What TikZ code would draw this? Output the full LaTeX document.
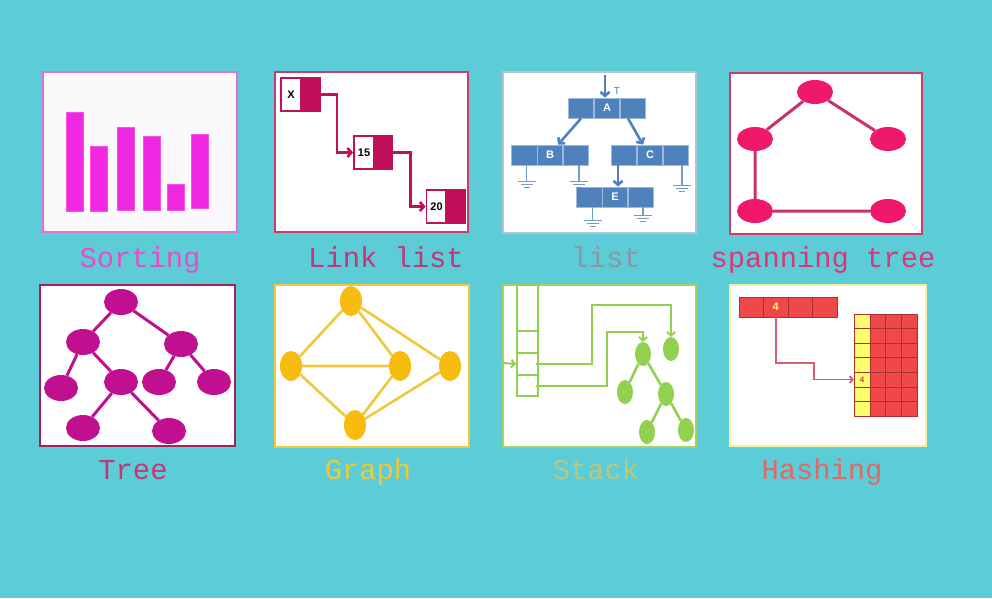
\documentclass[tikz,border=0pt]{standalone}
\usepackage{fontspec}
\setmainfont{Liberation Sans}
\newfontfamily\monof{Liberation Mono}
\usetikzlibrary{arrows.meta,shapes.geometric}
\definecolor{bg}{RGB}{92,205,215}
\definecolor{sortpink}{RGB}{240,40,225}
\definecolor{sortborder}{RGB}{230,110,210}
\definecolor{linkred}{RGB}{192,16,90}
\definecolor{linkborder}{RGB}{200,60,110}
\definecolor{listblue}{RGB}{79,129,189}
\definecolor{listborder}{RGB}{185,195,215}
\definecolor{hotpink}{RGB}{240,24,106}
\definecolor{stedge}{RGB}{200,50,110}
\definecolor{treepurple}{RGB}{192,16,143}
\definecolor{treeborder}{RGB}{160,32,96}
\definecolor{gold}{RGB}{248,188,16}
\definecolor{goldedge}{RGB}{240,200,60}
\definecolor{sgreen}{RGB}{146,208,80}
\definecolor{sgedge}{RGB}{160,210,100}
\definecolor{hashred}{RGB}{240,72,72}
\definecolor{hashyellow}{RGB}{255,255,110}
\definecolor{hasharrow}{RGB}{208,96,112}
\definecolor{hashborder}{RGB}{245,240,160}
\begin{document}
\begin{tikzpicture}[x=1pt,y=-1pt,
  panel/.style={draw, line width=1.8pt, fill=white, inner sep=0pt},
  bar/.style={fill=sortpink, draw=sortpink!80!white, line width=0.5pt, minimum width=17pt, inner sep=0pt, anchor=south west},
  lwhite/.style={draw=linkred, line width=1.8pt, fill=white, minimum width=20pt, minimum height=33pt, inner sep=0pt, font=\bfseries\fontsize{11}{11}\selectfont},
  ldark/.style={draw=linkred, line width=1.8pt, fill=linkred, minimum width=19pt, minimum height=33pt, inner sep=0pt},
  larrow/.style={draw=linkred, line width=2.6pt, -{Straight Barb[length=4pt,width=9pt]}},
  lcell/.style={draw=listblue!55!white, line width=0.8pt, fill=listblue, minimum width=25.7pt, minimum height=20pt, inner sep=0pt, text=white, font=\bfseries\fontsize{11}{11}\selectfont},
  barrow/.style={draw=listblue, line width=2.6pt, -{Straight Barb[length=4pt,width=9pt]}},
  gline/.style={draw=listblue!80!white, line width=1.4pt},
  gnd/.pic={\draw[listblue!80!white, line width=1.2pt] (-9,0)--(9,0) (-6,3)--(6,3) (-3,6)--(3,6);},
  stnode/.style={ellipse, fill=hotpink, minimum width=36pt, minimum height=24pt, inner sep=0pt},
  tnode/.style={ellipse, fill=treepurple, minimum width=34pt, minimum height=26pt, inner sep=0pt},
  gnode/.style={ellipse, fill=gold, minimum width=22pt, minimum height=30pt, inner sep=0pt},
  snode/.style={ellipse, fill=sgreen, minimum width=16pt, minimum height=24pt, inner sep=0pt},
  scell/.style={draw=sgreen, line width=2pt, minimum width=21pt, inner sep=0pt},
  sarrow/.style={draw=sgreen, line width=2pt, -{Straight Barb[length=3.5pt,width=8pt]}},
  hcell/.style={draw=hashred!70!black, line width=0.5pt, fill=hashred, minimum width=24.5pt, minimum height=20pt, inner sep=0pt},
  ycell/.style={draw=hashred!70!black, line width=0.5pt, fill=hashyellow, minimum width=16pt, minimum height=14.57pt, inner sep=0pt},
  rcell/.style={draw=hashred!70!black, line width=0.5pt, fill=hashred, minimum width=15.67pt, minimum height=14.57pt, inner sep=0pt},
  lab/.style={anchor=base, inner sep=0pt, font=\monof\fontsize{28.8}{28.8}\selectfont}
]
\fill[bg] (0,0) rectangle (992,598);
\useasboundingbox (0,0) rectangle (992,598);

% ---------- Panel 1: Sorting ----------
\node[panel, draw=sortborder, fill={rgb,255:red,252;green,249;blue,252}, minimum width=194pt, minimum height=160pt] (P1) at (140,152) {};
\node[bar, minimum height=99pt] (b1) at (66,211) {};
\node[bar, minimum height=65pt] (b2) at (90,211) {};
\node[bar, minimum height=83pt] (b3) at (117,210) {};
\node[bar, minimum height=74pt] (b4) at (143,210) {};
\node[bar, minimum height=26pt] (b5) at (167,210) {};
\node[bar, minimum height=74pt] (b6) at (191,208) {};
\node[lab, text={rgb,255:red,224;green,80;blue,200}] (L1) at (140,267) {Sorting};

% ---------- Panel 2: Link list ----------
\node[panel, draw=linkborder, minimum width=193pt, minimum height=160pt] (P2) at (371.5,152) {};
\node[lwhite] (Xa) at (291,94.5) {X};
\node[ldark] (Xb) at (310.5,94.5) {};
\node[lwhite] (Na) at (364,152.5) {15};
\node[ldark] (Nb) at (383,152.5) {};
\node[lwhite] (Ta) at (436.5,206.5) {20};
\node[ldark] (Tb) at (455.5,206.5) {};
\draw[larrow] (Xb.east) -- ++(16,0) |- (Na.west);
\draw[larrow] (Nb.east) -- ++(17,0) |- (Ta.west);
\node[lab, text={rgb,255:red,192;green,56;blue,120}] (L2) at (386,267) {Link list};

% ---------- Panel 3: list ----------
\node[panel, draw=listborder, minimum width=193pt, minimum height=161pt] (P3) at (599.5,152.5) {};
\node[lcell] (A1) at (581,108) {};
\node[lcell] (A2) at (607,108) {A};
\node[lcell] (A3) at (633,108) {};
\node[lcell] (B1) at (524.5,155) {};
\node[lcell] (B2) at (550,155) {B};
\node[lcell] (B3) at (576,155) {};
\node[lcell] (C1) at (624,155) {};
\node[lcell] (C2) at (650,155) {C};
\node[lcell] (C3) at (676,155) {};
\node[lcell] (E1) at (589.5,197) {};
\node[lcell] (E2) at (615,197) {E};
\node[lcell] (E3) at (641,197) {};
\coordinate (Tin) at (605,75);
\draw[barrow] (Tin) -- (Tin |- A2.north);
\node[text=listblue, font=\fontsize{10}{10}\selectfont, inner sep=0pt] (Tl) at (617,91) {T};
\draw[barrow] (A1.south) -- ([xshift=8pt]B2.north);
\draw[barrow] ([xshift=-5pt]A3.south) -- ([xshift=-7pt]C2.north);
\draw[barrow] ([xshift=-6pt]C1.south) -- ([xshift=-6pt]C1.south |- E2.north);
\draw[gline] ([xshift=2pt]B1.south) -- ++(0,16) coordinate (g1);
\pic at (g1) {gnd};
\draw[gline] ([xshift=3pt]B3.south) -- ++(0,16) coordinate (g2);
\pic at (g2) {gnd};
\draw[gline] ([xshift=6pt]C3.south) -- ++(0,20) coordinate (g3);
\pic at (g3) {gnd};
\draw[gline] ([xshift=3pt]E1.south) -- ++(0,13) coordinate (g4);
\pic at (g4) {gnd};
\draw[gline] ([xshift=2pt]E3.south) -- ++(0,8) coordinate (g5);
\pic at (g5) {gnd};
\node[lab, text={rgb,255:red,136;green,152;blue,168}] (L3) at (606,267) {list};

% ---------- Panel 4: spanning tree ----------
\node[panel, draw=linkborder, minimum width=192pt, minimum height=161pt] (P4) at (826,153.5) {};
\node[stnode] (s1) at (815,92) {};
\node[stnode] (s2) at (755,139) {};
\node[stnode] (s3) at (888,139) {};
\node[stnode] (s4) at (755,211) {};
\node[stnode] (s5) at (888,211) {};
\draw[stedge, line width=3pt] (s1) -- (s2) (s1) -- (s3) (s2) -- (s4) (s4) -- (s5);
\node[lab, text={rgb,255:red,216;green,56;blue,120}] (L4) at (823,267) {spanning tree};

% ---------- Panel 5: Tree ----------
\node[panel, draw=treeborder, minimum width=195pt, minimum height=161pt] (P5) at (137.5,365.5) {};
\node[tnode] (t0) at (121,302) {};
\node[tnode] (t1) at (83,342) {};
\node[tnode] (t2) at (181,344) {};
\node[tnode] (t3) at (61,388) {};
\node[tnode] (t4) at (121,382) {};
\node[tnode] (t5) at (159,382) {};
\node[tnode] (t6) at (214,382) {};
\node[tnode] (t7) at (83,428) {};
\node[tnode] (t8) at (169,431) {};
\draw[treepurple, line width=3pt] (t0) -- (t1) (t0) -- (t2) (t1) -- (t3) (t1) -- (t4) (t2) -- (t5) (t2) -- (t6) (t4) -- (t7) (t4) -- (t8);
\node[lab, text={rgb,255:red,192;green,56;blue,120}] (L5) at (133,479) {Tree};

% ---------- Panel 6: Graph ----------
\node[panel, draw=goldedge, minimum width=194pt, minimum height=162pt] (P6) at (372,366) {};
\node[gnode] (r1) at (351,301) {};
\node[gnode] (r2) at (291,366) {};
\node[gnode] (r3) at (400,366) {};
\node[gnode] (r4) at (450,366) {};
\node[gnode] (r5) at (355,425) {};
\draw[goldedge, line width=2.6pt] (r1) -- (r2) (r1) -- (r3) (r1) -- (r4) (r2) -- (r3) (r2) -- (r5) (r3) -- (r5) (r4) -- (r5);
\node[lab, text={rgb,255:red,240;green,200;blue,56}] (L6) at (368,479) {Graph};

% ---------- Panel 7: Stack ----------
\node[panel, draw=sgedge, minimum width=193pt, minimum height=162pt] (P7) at (599.5,366) {};
\node[scell, minimum height=46pt] (S0) at (527.5,308) {};
\node[scell, minimum height=22pt] (S1) at (527.5,342) {};
\node[scell, minimum height=22pt] (S2) at (527.5,364) {};
\node[scell, minimum height=21pt] (S3) at (527.5,385.5) {};
\node[snode] (n1) at (643,354) {};
\node[snode] (n2) at (671,349) {};
\node[snode] (n3) at (625,392) {};
\node[snode] (n4) at (666,394) {};
\node[snode] (n5) at (647,432) {};
\node[snode] (n6) at (686,430) {};
\draw[sgreen, line width=2.6pt] (n1) -- (n3) (n1) -- (n4) (n4) -- (n5) (n4) -- (n6);
\coordinate (sin) at (503,363);
\coordinate (p1) at (592,305);
\coordinate (p2) at (607,332);
\draw[sarrow] (sin) -- (S2.west);
\draw[sarrow] ([xshift=-3pt]S2.east) -| (p1) -| (n2.north);
\draw[sarrow] ([xshift=-3pt]S3.east) -| (p2) -| (n1.north);
\node[lab, text={rgb,255:red,184;green,200;blue,128}] (L7) at (596,479) {Stack};

% ---------- Panel 8: Hashing ----------
\node[panel, draw=hashborder, minimum width=196pt, minimum height=161pt] (P8) at (828,365.5) {};
\node[hcell] (H1) at (751.25,307) {};
\node[hcell, text=hashyellow, font=\bfseries\fontsize{11}{11}\selectfont] (H2) at (775.75,307) {4};
\node[hcell] (H3) at (800.25,307) {};
\node[hcell] (H4) at (824.75,307) {};
\foreach \r in {1,...,7} {
  \node[ycell] (Y\r) at (862,{314+(\r-0.5)*14.57}) {};
  \foreach \c in {1,2,3} {
    \node[rcell] (R\r\c) at ({870+(\c-0.5)*15.67},{314+(\r-0.5)*14.57}) {};
  }
}
\node[text=hashred!85!black, font=\bfseries\fontsize{8}{8}\selectfont, inner sep=0pt] (Y5t) at (Y5) {4};
\coordinate (hc) at (814,363);
\draw[hasharrow, line width=1.8pt, -{Straight Barb[length=3pt,width=7pt]}] (H2.south) |- (hc) |- (Y5.west);
\node[lab, text={rgb,255:red,224;green,104;blue,104}] (L8) at (822,479) {Hashing};
\end{tikzpicture}
\end{document}
